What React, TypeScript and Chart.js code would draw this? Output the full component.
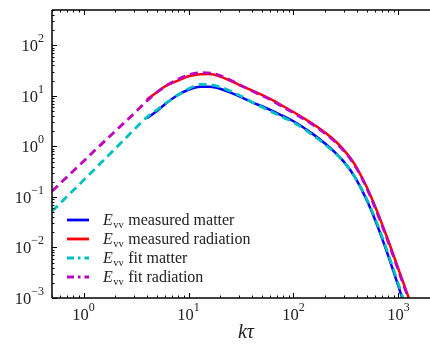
import React, { useEffect, useRef } from "react";
import { Chart, registerables } from "chart.js";

Chart.register(...registerables);

const xMeasured = [4, 5, 6, 8, 10, 13, 16, 20, 30, 40, 60, 80, 100, 150, 200, 250, 300, 350, 400, 500, 600, 700, 800, 1000, 1100, 1300, 1500];
const matterMeasured = [3.6, 5.0, 6.9, 10.5, 13.2, 15.1, 15.2, 13.8, 9.9, 7.55, 5.3, 3.98, 3.15, 1.81, 1.14, 0.755, 0.505, 0.333, 0.214, 0.0856, 0.035, 0.015, 0.0068, 0.00171, 0.00092, 0.00031, 0.00012];
const radiationMeasured = [8.5, 11.75, 15.5, 20.2, 24.5, 26.8, 27, 24, 16.7, 12.85, 8.7, 6.23, 4.8, 2.85, 1.89, 1.28, 0.865, 0.58, 0.379, 0.155, 0.0646, 0.0286, 0.0137, 0.00375, 0.00215, 0.00082, 0.00035];

const xFit = [0.5, 1, 2, 3, 4, 5, 6, 8, 10, 13, 16, 20, 30, 40, 60, 80, 100, 150, 200, 250, 300, 350, 400, 500, 600, 700, 800, 1000, 1100, 1300, 1500];
const matterFit = [0.052, 0.215, 0.9, 2.1, 3.75, 5.3, 7.0, 10.5, 13.8, 16.8, 16.6, 15.0, 10.4, 7.6, 5.0, 3.75, 3.0, 1.72, 1.09, 0.73, 0.495, 0.33, 0.217, 0.09, 0.0375, 0.0162, 0.0074, 0.00188, 0.00102, 0.00035, 0.00014];
const radiationFit = [0.13, 0.51, 2.0, 4.4, 7.9, 11.8, 15.5, 21.5, 26, 28.8, 28.3, 25.3, 17.0, 12.6, 8.4, 6.0, 4.6, 2.75, 1.8, 1.22, 0.83, 0.56, 0.365, 0.148, 0.061, 0.027, 0.0128, 0.0035, 0.002, 0.00077, 0.00033];

const legendLabels = ["measured matter", "measured radiation", "fit matter", "fit radiation"];
const legendColors = ["#0000ff", "#ff0000", "#00bfbf", "#bf00bf"];
const xTickExps = [0, 1, 2, 3];
const yTickExps = [-3, -2, -1, 0, 1, 2];

const X_MIN = 0.5, X_MAX = 2000, Y_MIN = 1e-3, Y_MAX = 500;
const SERIF = '"Liberation Serif", "DejaVu Serif", serif';

function sup(n: number) {
  return String(n).replace("-", "\u2212");
}

const axesPlugin = {
  id: "customAxes",
  afterDraw(chart: any) {
    const { ctx, chartArea } = chart;
    const xs = chart.scales.x, ys = chart.scales.y;
    const { left, right, top, bottom } = chartArea;
    ctx.save();
    ctx.strokeStyle = "#000";
    ctx.lineWidth = 1.5;
    ctx.beginPath();
    ctx.moveTo(left, top); ctx.lineTo(right + 2, top);
    ctx.moveTo(left, top); ctx.lineTo(left, bottom);
    ctx.moveTo(left, bottom); ctx.lineTo(right + 2, bottom);
    ctx.stroke();
    ctx.lineWidth = 1;
    for (let e = -1; e <= 3; e++) {
      for (let m = 1; m <= 9; m++) {
        const v = m * Math.pow(10, e);
        if (v < X_MIN || v > X_MAX) continue;
        const px = Math.round(xs.getPixelForValue(v)) + 0.5;
        const len = m === 1 ? 5 : 2.5;
        ctx.beginPath();
        ctx.moveTo(px, bottom); ctx.lineTo(px, bottom - len);
        ctx.moveTo(px, top); ctx.lineTo(px, top + len);
        ctx.stroke();
      }
    }
    for (let e = -3; e <= 2; e++) {
      for (let m = 1; m <= 9; m++) {
        const v = m * Math.pow(10, e);
        if (v < Y_MIN || v > Y_MAX) continue;
        const py = Math.round(ys.getPixelForValue(v)) + 0.5;
        const len = m === 1 ? 5 : 2.5;
        ctx.beginPath();
        ctx.moveTo(left, py); ctx.lineTo(left + len, py);
        ctx.stroke();
      }
    }
    ctx.fillStyle = "#222";
    ctx.textBaseline = "alphabetic";
    const big = "16.5px " + SERIF;
    const small = "12px " + SERIF;
    for (const e of xTickExps) {
      const px = xs.getPixelForValue(Math.pow(10, e));
      ctx.font = big; const w1 = ctx.measureText("10").width;
      ctx.font = small; const w2 = ctx.measureText(sup(e)).width;
      const x0 = px - (w1 + w2) / 2;
      ctx.font = big; ctx.textAlign = "left";
      ctx.fillText("10", x0, 320);
      ctx.font = small;
      ctx.fillText(sup(e), x0 + w1, 311);
    }
    for (const e of yTickExps) {
      const py = ys.getPixelForValue(Math.pow(10, e));
      ctx.font = small; const w2 = ctx.measureText(sup(e)).width;
      ctx.font = big; const w1 = ctx.measureText("10").width;
      const xr = 44;
      ctx.textAlign = "left";
      ctx.fillText("10", xr - w2 - w1, py + 6);
      ctx.font = small;
      ctx.fillText(sup(e), xr - w2, py - 3);
    }
    ctx.font = "italic 20px " + SERIF;
    ctx.textAlign = "center";
    ctx.fillText("k\u03C4", 246, 338);
    const rows = [220, 239, 258, 277];
    for (let i = 0; i < 4; i++) {
      const y = rows[i];
      ctx.strokeStyle = legendColors[i];
      ctx.lineWidth = 2.8;
      ctx.setLineDash(i < 2 ? [] : [7, 4, 2.5, 4]);
      ctx.beginPath();
      ctx.moveTo(67, y); ctx.lineTo(89, y);
      ctx.stroke();
      ctx.setLineDash([]);
      ctx.textAlign = "left";
      ctx.fillStyle = "#222";
      ctx.font = "italic 16px " + SERIF;
      ctx.fillText("E", 103, y + 5);
      const we = ctx.measureText("E").width;
      ctx.font = "10.5px " + SERIF;
      ctx.fillText("vv", 103 + we + 0.5, y + 8);
      const wv = ctx.measureText("vv").width;
      ctx.font = "16px " + SERIF;
      ctx.fillText(legendLabels[i], 103 + we + wv + 5, y + 5);
    }
    ctx.restore();
  },
};

function pts(xs: number[], ys: number[]) {
  return xs.map((x, i) => ({ x, y: ys[i] }));
}

export default function App() {
  const ref = useRef<HTMLCanvasElement>(null);
  useEffect(() => {
    document.body.style.margin = "0";
    const canvas = ref.current!;
    const common = { pointRadius: 0, fill: false, cubicInterpolationMode: "monotone" as const };
    const chart = new Chart(canvas, {
      type: "line",
      data: {
        datasets: [
          { ...common, label: "fit radiation", data: pts(xFit, radiationFit), borderColor: legendColors[3], borderWidth: 2.8, borderDash: [8, 5] },
          { ...common, label: "fit matter", data: pts(xFit, matterFit), borderColor: legendColors[2], borderWidth: 2.8, borderDash: [8, 5] },
          { ...common, label: "measured radiation", data: pts(xMeasured, radiationMeasured), borderColor: legendColors[1], borderWidth: 2.5 },
          { ...common, label: "measured matter", data: pts(xMeasured, matterMeasured), borderColor: legendColors[0], borderWidth: 2.5 },
        ],
      },
      options: {
        animation: false,
        responsive: false,
        devicePixelRatio: 1,
        layout: { padding: { left: 52, top: 10, right: 0, bottom: 49 } },
        plugins: { legend: { display: false }, tooltip: { enabled: false } },
        scales: {
          x: { type: "logarithmic", min: X_MIN, max: X_MAX, display: false },
          y: { type: "logarithmic", min: Y_MIN, max: Y_MAX, display: false },
        },
      },
      plugins: [axesPlugin],
    });
    return () => chart.destroy();
  }, []);
  return <canvas ref={ref} width={430} height={347} style={{ display: "block" }} />;
}
